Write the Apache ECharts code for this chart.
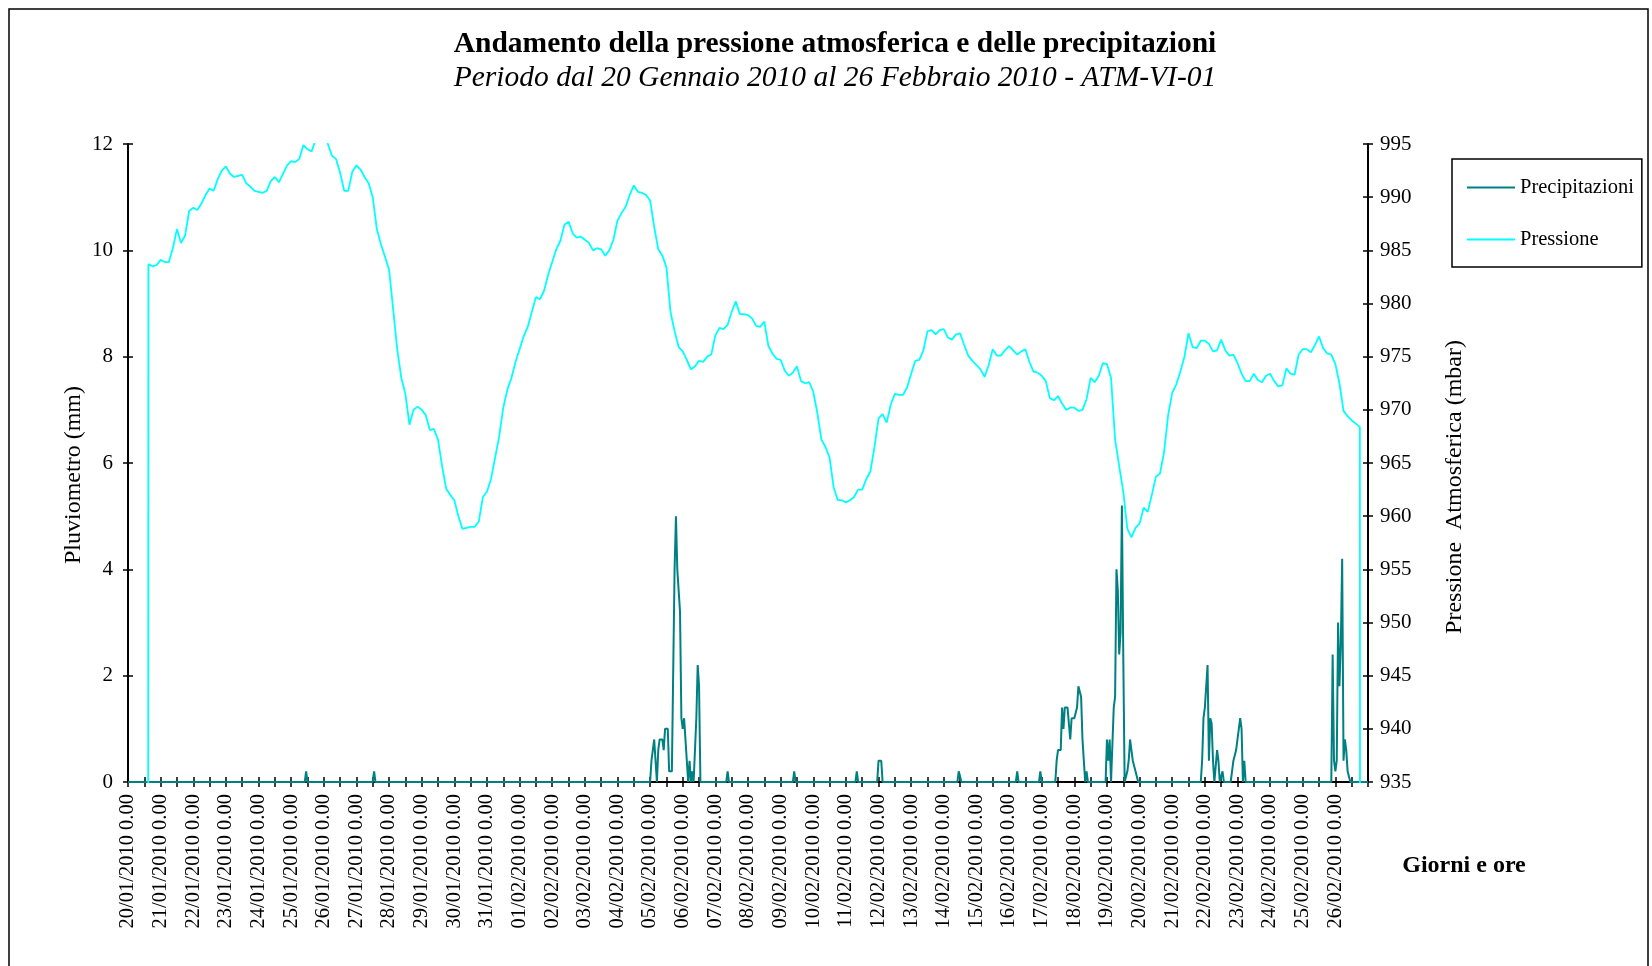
<!DOCTYPE html>
<html>
<head>
<meta charset="utf-8">
<script src="https://cdn.jsdelivr.net/npm/echarts/dist/echarts.min.js"></script>
<style>
  html, body { margin: 0; padding: 0; background: #fff; }
  #main { width: 1652px; height: 966px; }
</style>
</head>
<body>
<div id="main"></div>
<script>
// etichette dei giorni (una ogni 24 ore)
const giorni = [
  '20/01/2010 0.00', '21/01/2010 0.00', '22/01/2010 0.00', '23/01/2010 0.00', '24/01/2010 0.00',
  '25/01/2010 0.00', '26/01/2010 0.00', '27/01/2010 0.00', '28/01/2010 0.00', '29/01/2010 0.00',
  '30/01/2010 0.00', '31/01/2010 0.00', '01/02/2010 0.00', '02/02/2010 0.00', '03/02/2010 0.00',
  '04/02/2010 0.00', '05/02/2010 0.00', '06/02/2010 0.00', '07/02/2010 0.00', '08/02/2010 0.00',
  '09/02/2010 0.00', '10/02/2010 0.00', '11/02/2010 0.00', '12/02/2010 0.00', '13/02/2010 0.00',
  '14/02/2010 0.00', '15/02/2010 0.00', '16/02/2010 0.00', '17/02/2010 0.00', '18/02/2010 0.00',
  '19/02/2010 0.00', '20/02/2010 0.00', '21/02/2010 0.00', '22/02/2010 0.00', '23/02/2010 0.00',
  '24/02/2010 0.00', '25/02/2010 0.00', '26/02/2010 0.00'
];
const oreTotali = 912;   // 20/01 0.00 -> 27/02 0.00
const passoPressione = 3; // una lettura ogni 3 ore

// pressione (mbar), 8 letture al giorno; 0 = dato mancante
const pressione = [
  0, 0, 0, 0, 0, 983.7, 983.5, 983.6,                          // 20/01
  984.1, 983.9, 983.9, 985.2, 987.0, 985.7, 986.4, 988.7,     // 21/01
  989.0, 988.8, 989.4, 990.2, 990.8, 990.6, 991.7, 992.5,     // 22/01
  992.9, 992.2, 991.9, 992.0, 992.1, 991.3, 991.0, 990.6,     // 23/01
  990.5, 990.4, 990.6, 991.5, 991.9, 991.4, 992.2, 993.0,     // 24/01
  993.4, 993.3, 993.6, 994.9, 994.5, 994.3, 995.4, 996.5,     // 25/01
  997.3, 995.0, 993.9, 993.6, 992.3, 990.6, 990.6, 992.4,     // 26/01
  993.0, 992.6, 991.9, 991.3, 990.0, 987.0, 985.6, 984.4,     // 27/01
  983.2, 979.5, 975.7, 973.0, 971.5, 968.6, 970.0, 970.3,     // 28/01
  970.0, 969.5, 968.1, 968.2, 967.2, 964.7, 962.6, 962.0,     // 29/01
  961.5, 960.0, 958.8, 958.9, 959.0, 959.0, 959.5, 961.8,     // 30/01
  962.3, 963.5, 965.5, 967.5, 970.2, 971.9, 973.0, 974.5,     // 31/01
  975.7, 976.9, 977.8, 979.2, 980.6, 980.4, 981.2, 982.7,     // 01/02
  983.9, 985.1, 985.9, 987.4, 987.7, 986.6, 986.2, 986.3,     // 02/02
  986.0, 985.7, 985.0, 985.2, 985.1, 984.5, 985.0, 986.0,     // 03/02
  987.8, 988.5, 989.1, 990.2, 991.1, 990.5, 990.4, 990.2,     // 04/02
  989.7, 987.2, 985.1, 984.5, 983.4, 979.2, 977.4, 975.9,     // 05/02
  975.5, 974.7, 973.8, 974.1, 974.6, 974.5, 975.0, 975.2,     // 06/02
  977.0, 977.7, 977.6, 978.0, 979.2, 980.2, 979.0, 979.0,     // 07/02
  978.9, 978.6, 977.9, 977.8, 978.3, 976.0, 975.3, 974.8,     // 08/02
  974.7, 973.7, 973.2, 973.5, 974.1, 972.7, 972.5, 972.6,     // 09/02
  971.7, 969.7, 967.2, 966.5, 965.5, 962.7, 961.5, 961.5,     // 10/02
  961.3, 961.5, 961.8, 962.5, 962.5, 963.5, 964.2, 966.5,     // 11/02
  969.2, 969.6, 968.8, 970.5, 971.5, 971.4, 971.4, 972.1,     // 12/02
  973.4, 974.6, 974.7, 975.6, 977.4, 977.5, 977.1, 977.5,     // 13/02
  977.6, 976.8, 976.6, 977.1, 977.2, 976.1, 975.1, 974.6,     // 14/02
  974.2, 973.8, 973.1, 974.2, 975.7, 975.1, 975.1, 975.6,     // 15/02
  976.0, 975.6, 975.2, 975.5, 975.7, 974.5, 973.6, 973.5,     // 16/02
  973.2, 972.7, 971.1, 970.9, 971.3, 970.6, 970.0, 970.2,     // 17/02
  970.2, 969.9, 970.0, 971.0, 973.0, 972.6, 973.2, 974.4,     // 18/02
  974.3, 973.0, 967.2, 964.7, 962.3, 958.8, 958.0, 958.9,     // 19/02
  959.3, 960.8, 960.4, 962.0, 963.7, 964.0, 966.0, 969.5,     // 20/02
  971.6, 972.4, 973.6, 975.0, 977.2, 975.9, 975.8, 976.5,     // 21/02
  976.5, 976.2, 975.5, 975.6, 976.6, 975.6, 975.1, 975.2,     // 22/02
  974.4, 973.4, 972.7, 972.7, 973.4, 972.8, 972.6, 973.2,     // 23/02
  973.4, 972.7, 972.2, 972.3, 973.9, 973.4, 973.3, 975.2,     // 24/02
  975.7, 975.7, 975.4, 976.1, 976.9, 975.8, 975.3, 975.2,     // 25/02
  974.3, 972.5, 969.9, 969.4, 969.0, 968.7, 968.4, 0,         // 26/02
  0                                                            // 27/02
];

// precipitazioni (mm): [ora dall'inizio, valore]
const precipitazioni = [
  [0, 0],
  [130, 0], [131, 0.2], [132, 0],
  [180, 0], [181, 0.2], [182, 0],
  [384, 0], [385, 0.4], [386, 0.6], [387, 0.8], [388, 0.4], [389, 0], [390, 0.6], [391, 0.8],
  [392, 0.8], [393, 0.8], [394, 0.6], [395, 1.0], [396, 1.0], [397, 1.0], [398, 0.2], [399, 0.2],
  [400, 0.2], [401, 0.2], [402, 4.0], [403, 5.0], [404, 4.0], [405, 3.6], [406, 3.2], [407, 1.2],
  [408, 1.0], [409, 1.2], [410, 0.8], [411, 0.4], [412, 0], [413, 0.4], [414, 0], [415, 0.2],
  [416, 0], [417, 0], [418, 1.2], [419, 2.2], [420, 1.8], [421, 0],
  [440, 0], [441, 0.2], [442, 0],
  [489, 0], [490, 0.2], [491, 0],
  [535, 0], [536, 0.2], [537, 0],
  [551, 0], [552, 0.4], [553, 0.4], [554, 0.4], [555, 0],
  [610, 0], [611, 0.2], [612, 0.2], [613, 0],
  [653, 0], [654, 0.2], [655, 0],
  [670, 0], [671, 0.2], [672, 0],
  [682, 0], [683, 0.4], [684, 0.6], [685, 0.6], [686, 0.6], [687, 1.4], [688, 1.0], [689, 1.4],
  [690, 1.4], [691, 1.4], [692, 1.4], [693, 0.8], [694, 1.2], [695, 1.2], [696, 1.2], [697, 1.2],
  [698, 1.4], [699, 1.8], [700, 1.8], [701, 1.6], [702, 0.8], [703, 0.4], [704, 0], [705, 0.2], [706, 0],
  [719, 0], [720, 0.8], [721, 0.4], [722, 0.8], [723, 0], [724, 0], [725, 1.4], [726, 1.6],
  [727, 4.0], [728, 3.6], [729, 2.4], [730, 2.8], [731, 5.2], [732, 2.4], [733, 0], [734, 0],
  [735, 0.2], [736, 0.4], [737, 0.8], [738, 0.6], [739, 0.4], [740, 0.4], [741, 0.2], [742, 0.2], [743, 0],
  [789, 0], [790, 0.4], [791, 1.2], [792, 1.4], [793, 1.8], [794, 2.2], [795, 0.4], [796, 1.2],
  [797, 1.1], [798, 0.4], [799, 0], [800, 0.3], [801, 0.6], [802, 0.4], [803, 0], [804, 0], [805, 0.2], [806, 0],
  [811, 0], [812, 0.2], [813, 0.4], [814, 0.4], [815, 0.6], [816, 0.8], [817, 1.0], [818, 1.2],
  [819, 1.0], [820, 0], [821, 0.4], [822, 0],
  [885, 0], [886, 2.4], [887, 0.4], [888, 0.2], [889, 0.4], [890, 3.0], [891, 1.8], [892, 2.6],
  [893, 4.2], [894, 0.4], [895, 0.8], [896, 0.6], [897, 0.2], [898, 0.2], [899, 0],
  [912, 0]
];

const font = '"Liberation Serif", "Times New Roman", serif';

const chart = echarts.init(document.getElementById('main'));

function asseX(inside) {
  return {
    type: 'value',
    min: 0,
    max: oreTotali,
    interval: 12,
    position: 'bottom',
    axisLine: { show: !inside, onZero: false, lineStyle: { color: '#000', width: 2 } },
    axisTick: { show: true, inside: inside, length: 5, lineStyle: { color: '#000', width: 1.5 } },
    splitLine: { show: false },
    axisLabel: inside ? { show: false } : {
      show: true,
      rotate: 90,
      margin: 12,
      color: '#000',
      fontFamily: font,
      fontSize: 20.5,
      formatter: function (v) {
        if (v % 24 !== 0 || v >= oreTotali) return '';
        return giorni[v / 24];
      }
    }
  };
}

function asseY(pos, min, max, step, inside) {
  return {
    type: 'value',
    position: pos,
    min: min,
    max: max,
    interval: step,
    axisLine: { show: !inside, onZero: false, lineStyle: { color: '#000', width: 2 } },
    axisTick: { show: true, inside: inside, length: 5, lineStyle: { color: '#000', width: 1.5 } },
    splitLine: { show: false },
    axisLabel: inside ? { show: false } : {
      show: true,
      margin: pos === 'left' ? 15 : 12,
      color: '#000',
      fontFamily: font,
      fontSize: 21
    }
  };
}

chart.setOption({
  animation: false,
  backgroundColor: '#fff',
  grid: { left: 128, right: 284, top: 144, bottom: 184, containLabel: false },
  xAxis: [asseX(false), asseX(true)],
  yAxis: [
    asseY('left', 0, 12, 2, false),
    asseY('right', 935, 995, 5, false),
    asseY('left', 0, 12, 2, true),
    asseY('right', 935, 995, 5, true)
  ],
  legend: {
    data: ['Precipitazioni', 'Pressione'],
    orient: 'vertical',
    left: 1452,
    top: 159,
    icon: 'rect',
    itemWidth: 48,
    itemHeight: 2,
    itemGap: 31,
    padding: [18, 8, 17, 15],
    borderColor: '#000',
    borderWidth: 1.5,
    textStyle: { fontFamily: font, fontSize: 20.5, color: '#000' }
  },
  graphic: [
    { type: 'rect', shape: { x: 9, y: 9, width: 1639, height: 1000 }, style: { fill: 'none', stroke: '#000', lineWidth: 1.5 } },
    { type: 'text', x: 835, y: 44, style: { text: 'Andamento della pressione atmosferica e delle precipitazioni', font: 'bold 29.5px ' + font, fill: '#000', textAlign: 'center', textVerticalAlign: 'middle' } },
    { type: 'text', x: 835, y: 78, style: { text: 'Periodo dal 20 Gennaio 2010 al 26 Febbraio 2010 - ATM-VI-01', font: 'italic 29.5px ' + font, fill: '#000', textAlign: 'center', textVerticalAlign: 'middle' } },
    { type: 'text', x: 74, y: 475, rotation: Math.PI / 2, style: { text: 'Pluviometro (mm)', font: '24px ' + font, fill: '#000', textAlign: 'center', textVerticalAlign: 'middle' } },
    { type: 'text', x: 1455, y: 487, rotation: Math.PI / 2, style: { text: 'Pressione  Atmosferica (mbar)', font: '24px ' + font, fill: '#000', textAlign: 'center', textVerticalAlign: 'middle' } },
    { type: 'text', x: 1464, y: 866, style: { text: 'Giorni e ore', font: 'bold 24px ' + font, fill: '#000', textAlign: 'center', textVerticalAlign: 'middle' } }
  ],
  series: [
    {
      name: 'Precipitazioni',
      type: 'line',
      xAxisIndex: 0,
      yAxisIndex: 0,
      data: precipitazioni,
      symbol: 'none',
      clip: true,
      color: '#008080',
      lineStyle: { color: '#008080', width: 2 }
    },
    {
      name: 'Pressione',
      type: 'line',
      xAxisIndex: 0,
      yAxisIndex: 1,
      data: pressione.map(function (v, i) { return [i * passoPressione, v]; }),
      symbol: 'none',
      clip: true,
      color: '#00FFFF',
      lineStyle: { color: '#00FFFF', width: 1.8 }
    }
  ]
});
</script>
</body>
</html>
